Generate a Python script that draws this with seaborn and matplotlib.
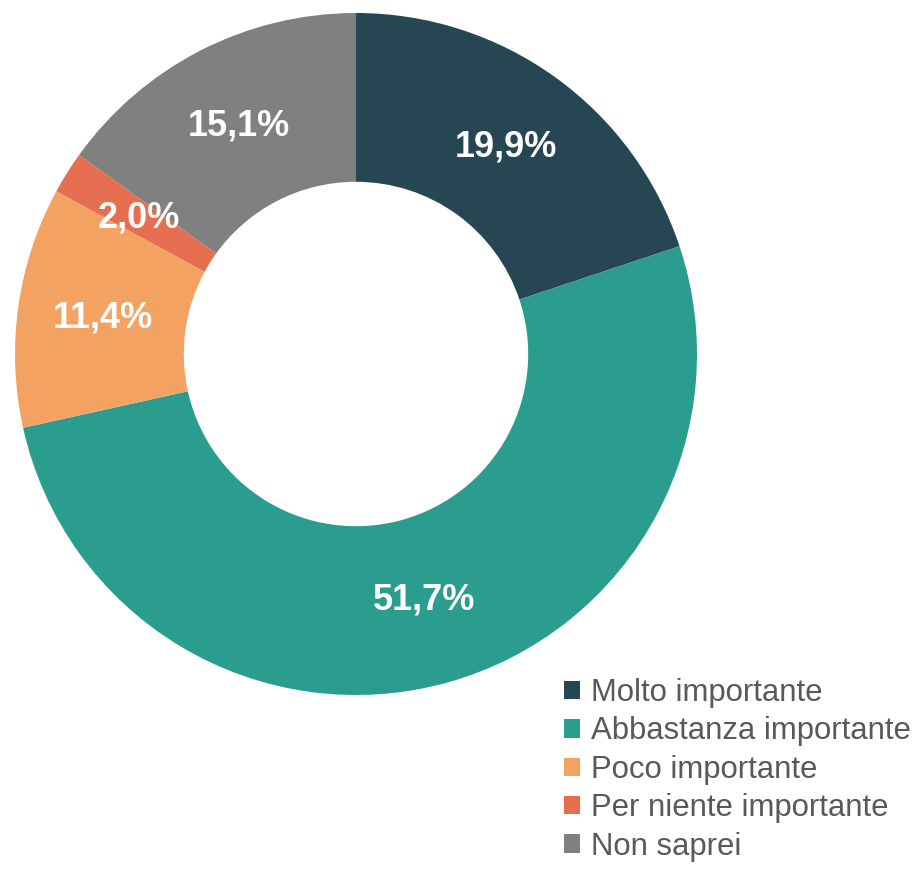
import matplotlib
matplotlib.use("Agg")
import matplotlib.pyplot as plt
import seaborn as sns
from matplotlib.patches import Patch

categories = ["Molto importante", "Abbastanza importante", "Poco importante",
              "Per niente importante", "Non saprei"]
values = [19.9, 51.7, 11.4, 2.0, 15.1]
labels = ["19,9%", "51,7%", "11,4%", "2,0%", "15,1%"]
colors = ["#264653", "#2a9d8f", "#f4a261", "#e76f51", "#808080"]

sns.set_theme(style="white")
plt.rcParams["font.family"] = ["Liberation Sans", "DejaVu Sans"]
palette = sns.color_palette(colors)

W, H = 922, 869
fig = plt.figure(figsize=(W / 100, H / 100), dpi=100)
cx, cy, R = 356, 354, 341
ax = fig.add_axes([(cx - R) / W, (H - cy - R) / H, 2 * R / W, 2 * R / H])

wedges, texts = ax.pie(values, colors=palette, startangle=90, counterclock=False,
                       labels=labels, labeldistance=0.75, radius=1.0,
                       wedgeprops=dict(width=0.495, edgecolor="none"),
                       textprops=dict(color="white", fontsize=26, fontweight="bold"))
for t in texts:
    t.set_ha("center")
    t.set_va("center")
ax.set_xlim(-1, 1)
ax.set_ylim(-1, 1)
ax.set_aspect("equal")
ax.axis("off")

handles = [Patch(facecolor=c, edgecolor="none") for c in palette]
leg = fig.legend(handles, categories, loc="upper left",
                 bbox_to_anchor=(564 / W, 1 - 678 / H), frameon=False,
                 fontsize=22.4, handlelength=0.53, handleheight=0.53,
                 handletextpad=0.33, labelspacing=0.27, borderpad=0, borderaxespad=0)
for t in leg.get_texts():
    t.set_color("#595959")

fig.savefig("out.png", dpi=100)
